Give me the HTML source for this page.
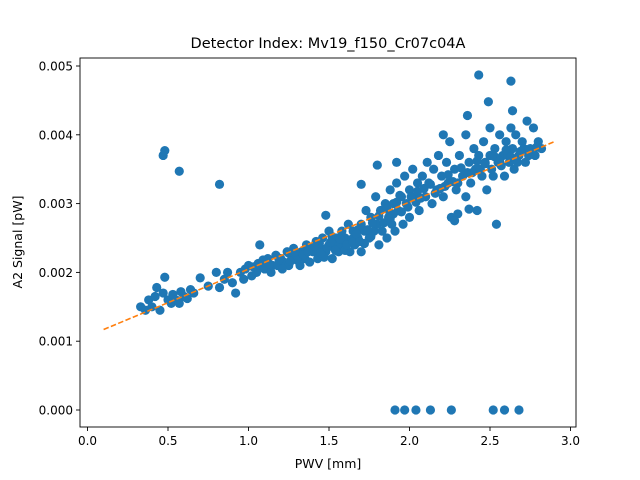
<!DOCTYPE html>
<html><head><meta charset="utf-8"><style>
body{margin:0;background:#fff;}
svg{display:block;font-family:"DejaVu Sans","Liberation Sans",sans-serif;}
</style></head><body>
<svg id="chart" width="640" height="480">
<rect width="640" height="480" fill="#fff"/>
<text x="328" y="48" font-size="14.5" text-anchor="middle">Detector Index: Mv19_f150_Cr07c04A</text>
<g id="plot"></g>
<text x="328" y="468" font-size="12.5" text-anchor="middle">PWV [mm]</text>
<text transform="translate(22,242) rotate(-90)" font-size="12.5" text-anchor="middle">A2 Signal [pW]</text>
</svg>
<script>
const pts = [[0.33,0.0015],[0.36,0.00145],[0.38,0.0016],[0.40,0.0015],[0.42,0.00165],[0.43,0.00178],[0.45,0.00145],[0.47,0.0017],[0.48,0.00193],[0.50,0.0016],[0.52,0.00155],[0.53,0.00168],[0.55,0.0016],[0.57,0.00155],[0.58,0.00172],[0.60,0.00165],[0.62,0.00162],[0.64,0.00175],[0.66,0.0017],[0.70,0.00192],[0.75,0.0018],[0.80,0.0020],[0.82,0.00178],[0.85,0.0019],[0.87,0.002],[0.90,0.00185],[0.92,0.0017],[0.95,0.0020],[0.97,0.0019],[1.0,0.0021],[1.02,0.00195],[1.05,0.0020],[1.07,0.0024],[1.08,0.0021],[1.10,0.00205],[1.12,0.0022],[1.14,0.0020],[1.15,0.0021],[1.17,0.00225],[1.18,0.0021],[1.20,0.0022],[1.22,0.00215],[1.24,0.0023],[1.25,0.0021],[1.27,0.0022],[1.28,0.00235],[1.30,0.00225],[1.32,0.0021],[1.33,0.0023],[1.35,0.0022],[1.36,0.0024],[1.38,0.00215],[1.40,0.0023],[1.42,0.00245],[1.43,0.0022],[1.45,0.00235],[1.46,0.0025],[1.48,0.0023],[1.50,0.0024],[1.50,0.0026],[1.52,0.0022],[1.53,0.00245],[1.55,0.0025],[1.56,0.0023],[1.58,0.0026],[1.59,0.0024],[1.60,0.0025],[1.62,0.0027],[1.63,0.0023],[1.65,0.0026],[1.66,0.0024],[1.68,0.0025],[1.70,0.0027],[1.70,0.0023],[1.72,0.0026],[1.73,0.0029],[1.75,0.0025],[1.76,0.0028],[1.78,0.0026],[1.79,0.0031],[1.80,0.0027],[1.81,0.0024],[1.82,0.0029],[1.83,0.0026],[1.85,0.0030],[1.86,0.0025],[1.87,0.0028],[1.88,0.0032],[1.89,0.0027],[1.90,0.0030],[1.91,0.0026],[1.92,0.0033],[1.93,0.0029],[1.95,0.0031],[1.96,0.0027],[1.97,0.0034],[1.98,0.0030],[2.00,0.0032],[2.00,0.0028],[2.02,0.0035],[2.03,0.0031],[2.05,0.0033],[2.06,0.0029],[2.08,0.0034],[2.10,0.0031],[2.11,0.0036],[2.12,0.0033],[2.14,0.0030],[2.15,0.0035],[2.17,0.0032],[2.18,0.0037],[2.20,0.0034],[2.21,0.0031],[2.23,0.0036],[2.24,0.0033],[2.25,0.0039],[2.26,0.0028],[2.28,0.0035],[2.30,0.0033],[2.31,0.0037],[2.33,0.0034],[2.35,0.0040],[2.35,0.0031],[2.37,0.0036],[2.38,0.0033],[2.40,0.0038],[2.41,0.0035],[2.42,0.0029],[2.43,0.0037],[2.45,0.0034],[2.46,0.0039],[2.47,0.0036],[2.48,0.0032],[2.50,0.0041],[2.50,0.0037],[2.52,0.0034],[2.53,0.0038],[2.54,0.0027],[2.55,0.0036],[2.56,0.0040],[2.58,0.0037],[2.59,0.0034],[2.60,0.0039],[2.62,0.0036],[2.63,0.0041],[2.64,0.0038],[2.65,0.0035],[2.66,0.0040],[2.68,0.0037],[2.70,0.0039],[2.72,0.0036],[2.73,0.0042],[2.75,0.0038],[2.77,0.0041],[2.78,0.0037],[2.80,0.0039],[2.82,0.0038],
[1.25,0.00228],[1.3,0.00218],[1.38,0.00232],[1.44,0.00242],[1.47,0.00222],[1.52,0.00252],[1.55,0.00238],[1.6,0.00232],[1.64,0.00248],[1.68,0.00262],[1.72,0.00242],[1.76,0.00252],[1.84,0.00272],[1.9,0.00285],[1.94,0.00312],[1.99,0.00295],[2.04,0.00302],[2.09,0.00322],[2.16,0.00315],[2.22,0.00325],[2.29,0.0032],[2.36,0.00345],[2.44,0.0035],[2.51,0.0035],[2.57,0.00355],[2.61,0.0037],[2.67,0.0036],[2.71,0.0038],
[1.13,0.00212],[1.19,0.00218],[1.21,0.00205],[1.26,0.00216],[1.29,0.0023],[1.34,0.00226],[1.37,0.0023],[1.41,0.00238],[1.45,0.00228],[1.49,0.00236],[1.51,0.00244],[1.54,0.00232],[1.57,0.00248],[1.61,0.0024],[1.65,0.00244],[1.67,0.00256],[1.69,0.00245],[1.74,0.00262],[1.77,0.00272],[1.81,0.00282],[1.86,0.00292],[1.88,0.00278],[1.92,0.00302],[1.95,0.00288],[2.01,0.0031],[2.05,0.00318],[2.07,0.00308],[2.13,0.00328],[2.19,0.00322],[2.24,0.00342],[2.27,0.00332],[2.32,0.00352],[2.39,0.00345],[2.42,0.00362],[2.47,0.00358],[2.53,0.00368],[2.56,0.00362],[2.6,0.00378],[2.63,0.00368],[2.69,0.00376],[2.74,0.0037],[2.79,0.00382],[0.98,0.00205],[1.03,0.00208],[1.06,0.00213],[1.09,0.00218],
[0.47,0.0037],[0.48,0.00377],[0.57,0.00347],[0.82,0.00328],[2.43,0.00487],[2.63,0.00478],[2.49,0.00448],[2.36,0.00428],[2.64,0.00435],[2.21,0.0040],[1.80,0.00356],[1.92,0.00360],[2.30,0.00285],[2.28,0.00275],[2.37,0.00292],[1.48,0.00283],[1.7,0.00328],
[1.91,0],[1.97,0],[2.04,0],[2.13,0],[2.26,0],[2.52,0],[2.59,0],[2.68,0]];
const pwv = pts.map(p=>p[0]);
const signal = pts.map(p=>p[1]);
const xTicks = [0.0,0.5,1.0,1.5,2.0,2.5,3.0];
const xTickLabels = ["0.0","0.5","1.0","1.5","2.0","2.5","3.0"];
const yTicks = [0,0.001,0.002,0.003,0.004,0.005];
const yTickLabels = ["0.000","0.001","0.002","0.003","0.004","0.005"];
const fitX = [0.1,2.9];
const fitY = [0.00117,0.00390];

const L=80,R=576,T=58,B=427;
const sx = v => 87.5 + v*161;
const sy = v => 410 - v*68800;
const NS="http://www.w3.org/2000/svg";
const g=document.getElementById('plot');
function mk(tag,attrs){const e=document.createElementNS(NS,tag);for(const k in attrs)e.setAttribute(k,attrs[k]);g.appendChild(e);return e;}
for(let i=0;i<pwv.length;i++){
  const c=mk('circle',{cx:sx(pwv[i]),cy:sy(signal[i]),r:4.6,fill:'#1f77b4'});
  
  
}
const fl=mk('line',{x1:sx(fitX[0]),y1:sy(fitY[0]),x2:sx(fitX[1]),y2:sy(fitY[1]),stroke:'#ff7f0e','stroke-width':1.6,'stroke-dasharray':'5.5,2.4'});


const fr=mk('rect',{x:L,y:T,width:R-L,height:B-T,fill:'none',stroke:'#000','stroke-width':0.9});


xTicks.forEach((v,i)=>{
  const x=sx(v);
  const t=mk('line',{x1:x,y1:B,x2:x,y2:B+4,stroke:'#000','stroke-width':0.9});
  
  
  const l=mk('text',{x:x,y:B+18,'font-size':12,'text-anchor':'middle'});
  l.textContent=xTickLabels[i];
  
  
});
yTicks.forEach((v,i)=>{
  const y=sy(v);
  const t=mk('line',{x1:L-4,y1:y,x2:L,y2:y,stroke:'#000','stroke-width':0.9});
  
  
  const l=mk('text',{x:L-7,y:y+4.5,'font-size':12,'text-anchor':'end'});
  l.textContent=yTickLabels[i];
  
  
});
</script>
</body></html>
